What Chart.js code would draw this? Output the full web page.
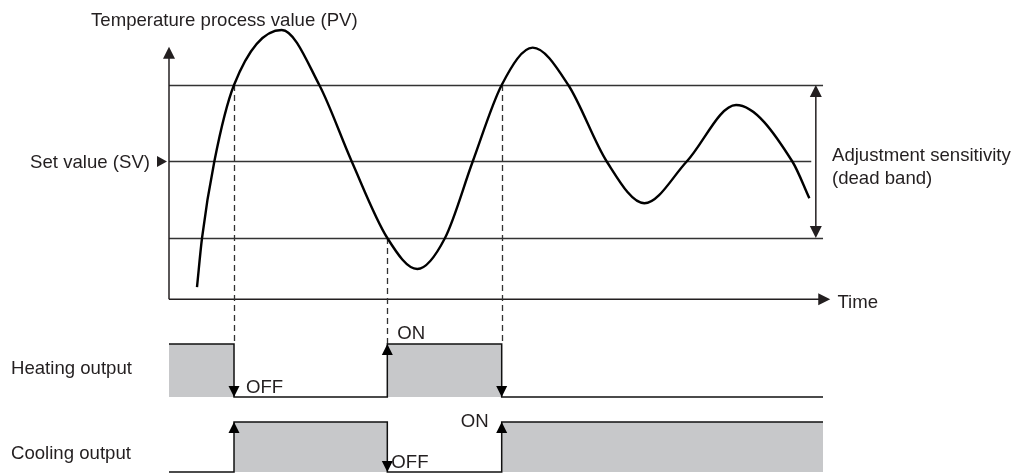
<!DOCTYPE html>
<html><head><meta charset="utf-8">
<script src="https://cdn.jsdelivr.net/npm/chart.js@4"></script>
<style>html,body{margin:0;padding:0;background:#fff}#wrap{width:1014px;height:473px}</style>
</head><body><div id="wrap"><canvas id="c" width="1014" height="473"></canvas></div>
<script>
// ---- data ----
const pvTime  = [4.28, 5.05, 6.93, 9.94, 17.23, 22.98, 27.94, 33.38, 37.97, 42.20, 46.44, 50.87, 55.61, 61.05, 66.93, 72.68, 79.16, 86.70, 95.31, 97.91];
const pvValue = [-16.41, -10, 0, 10, 17.19, 10, 0, -10, -14.05, -10, 0, 10, 14.88, 10, 0, -5.46, 0, 7.39, 0, -4.81];
const setValue = 0;
const bandUpper = 10;
const bandLower = -10;
const outTime   = [0, 9.94, 33.38, 50.87, 100];
const heatState = [1, 0, 1, 0, 0];
const coolState = [0, 1, 0, 1, 1];
const labels = {
  pv: 'Temperature process value (PV)', sv: 'Set value (SV)', time: 'Time',
  band1: 'Adjustment sensitivity', band2: '(dead band)',
  heat: 'Heating output', cool: 'Cooling output', on: 'ON', off: 'OFF'
};

const FONT = '18.6px "Liberation Sans", Arial, sans-serif';
const TXT = '#231f20';
const GRAY = '#c7c8ca';

function arrowHead(ctx, x, y, dir, len = 11, hw = 5.5) {
  ctx.beginPath();
  ctx.moveTo(x, y);
  if (dir === 'up')    { ctx.lineTo(x - hw, y + len); ctx.lineTo(x + hw, y + len); }
  if (dir === 'down')  { ctx.lineTo(x - hw, y - len); ctx.lineTo(x + hw, y - len); }
  if (dir === 'right') { ctx.lineTo(x - len, y - hw); ctx.lineTo(x - len, y + hw); }
  ctx.closePath();
  ctx.fill();
}

const diagram = {
  id: 'diagram',
  beforeDatasetsDraw(chart) {
    const { ctx, scales } = chart;
    const X = scales.x, Y = scales.y, H = scales.yh;
    const x0 = X.getPixelForValue(0);
    ctx.save();
    ctx.strokeStyle = '#333';
    ctx.lineWidth = 1.3;
    [[bandUpper, 100], [setValue, 98.2], [bandLower, 100]].forEach(([v, te]) => {
      const y = Math.round(Y.getPixelForValue(v)) + 0.5;
      ctx.beginPath(); ctx.moveTo(x0, y); ctx.lineTo(X.getPixelForValue(te), y); ctx.stroke();
    });
    ctx.strokeStyle = TXT; ctx.fillStyle = TXT; ctx.lineWidth = 1.5;
    const yTop = Y.getPixelForValue(15), yAx = Y.getPixelForValue(-18), xTip = X.getPixelForValue(101.1);
    ctx.beginPath(); ctx.moveTo(x0, yAx); ctx.lineTo(x0, yTop + 5); ctx.stroke();
    arrowHead(ctx, x0, yTop, 'up', 12, 6);
    ctx.beginPath(); ctx.moveTo(x0, yAx); ctx.lineTo(xTip - 5, yAx); ctx.stroke();
    arrowHead(ctx, xTip, yAx, 'right', 12, 6);
    ctx.setLineDash([6, 4]);
    ctx.lineWidth = 1.3;
    ctx.strokeStyle = '#333';
    for (let i = 1; i < outTime.length - 1; i++) {
      if (heatState[i] === heatState[i - 1]) continue;
      const band = heatState[i] === 0 ? bandUpper : bandLower;
      const x = Math.round(X.getPixelForValue(outTime[i])) + 0.5;
      ctx.beginPath(); ctx.moveTo(x, Y.getPixelForValue(band)); ctx.lineTo(x, H.getPixelForValue(1)); ctx.stroke();
    }
    ctx.restore();
  },
  afterDatasetsDraw(chart) {
    const { ctx, scales } = chart;
    const X = scales.x, Y = scales.y, H = scales.yh, C = scales.yc;
    ctx.save();
    ctx.fillStyle = '#000';
    for (let i = 1; i < outTime.length; i++) {
      const x = X.getPixelForValue(outTime[i]);
      if (heatState[i] !== heatState[i - 1]) {
        arrowHead(ctx, x, H.getPixelForValue(heatState[i]), heatState[i] ? 'up' : 'down');
      }
      if (coolState[i] !== coolState[i - 1]) {
        arrowHead(ctx, x, C.getPixelForValue(coolState[i]), coolState[i] ? 'up' : 'down');
      }
    }
    const ySV = Y.getPixelForValue(setValue);
    ctx.fillStyle = TXT;
    arrowHead(ctx, X.getPixelForValue(0) - 2, ySV, 'right', 10, 5.5);
    const xd = X.getPixelForValue(98.9);
    const yu = Y.getPixelForValue(bandUpper), yl = Y.getPixelForValue(bandLower);
    ctx.strokeStyle = TXT; ctx.lineWidth = 1.5;
    ctx.beginPath(); ctx.moveTo(xd, yu + 6); ctx.lineTo(xd, yl - 6); ctx.stroke();
    arrowHead(ctx, xd, yu, 'up', 12, 6); arrowHead(ctx, xd, yl, 'down', 12, 6);
    ctx.font = FONT; ctx.fillStyle = TXT; ctx.textBaseline = 'alphabetic';
    ctx.textAlign = 'left';
    ctx.fillText(labels.pv, 91, 25.5);
    ctx.fillText(labels.time, X.getPixelForValue(102.2), Y.getPixelForValue(-18) + 9);
    ctx.fillText(labels.band1, 832, 161);
    ctx.fillText(labels.band2, 832, 184);
    ctx.fillText(labels.heat, 11, 374);
    ctx.fillText(labels.cool, 11, 459);
    const t1 = X.getPixelForValue(outTime[1]), t2 = X.getPixelForValue(outTime[2]), t3 = X.getPixelForValue(outTime[3]);
    ctx.fillText(labels.off, t1 + 12, H.getPixelForValue(0) - 4);
    ctx.fillText(labels.on, t2 + 10, H.getPixelForValue(1) - 5);
    ctx.fillText(labels.off, t2 + 4, C.getPixelForValue(0) - 4);
    ctx.textAlign = 'right';
    ctx.fillText(labels.on, t3 - 13, C.getPixelForValue(1) + 5);
    ctx.fillText(labels.sv, 150, ySV + 7);
    ctx.restore();
  }
};

const pvData = pvTime.map((t, i) => ({ x: t, y: pvValue[i] }));
const heatData = outTime.map((t, i) => ({ x: t, y: heatState[i] }));
const coolData = outTime.map((t, i) => ({ x: t, y: coolState[i] }));

new Chart(document.getElementById('c'), {
  type: 'line',
  data: {
    datasets: [
      { label: 'PV', data: pvData, yAxisID: 'y', borderColor: '#000', borderWidth: 2.4,
        cubicInterpolationMode: 'monotone', pointRadius: 0, fill: false },
      { label: 'Heating', data: heatData, yAxisID: 'yh', stepped: true, borderColor: '#111', borderWidth: 1.5,
        backgroundColor: GRAY, fill: { value: 0 }, pointRadius: 0 },
      { label: 'Cooling', data: coolData, yAxisID: 'yc', stepped: true, borderColor: '#111', borderWidth: 1.5,
        backgroundColor: GRAY, fill: { value: 0 }, pointRadius: 0 }
    ]
  },
  options: {
    responsive: false, animation: false, events: [],
    layout: { padding: 0 },
    plugins: { legend: { display: false }, tooltip: { enabled: false }, title: { display: false } },
    scales: {
      x:  { type: 'linear', display: false, min: -25.84, max: 129.2 },
      y:  { type: 'linear', display: false, min: -40.72, max: 21.11 },
      yh: { type: 'linear', display: false, min: -1.434, max: 7.491 },
      yc: { type: 'linear', display: false, min: -0.02, max: 9.44 }
    }
  },
  plugins: [diagram]
});
</script>
</body></html>
